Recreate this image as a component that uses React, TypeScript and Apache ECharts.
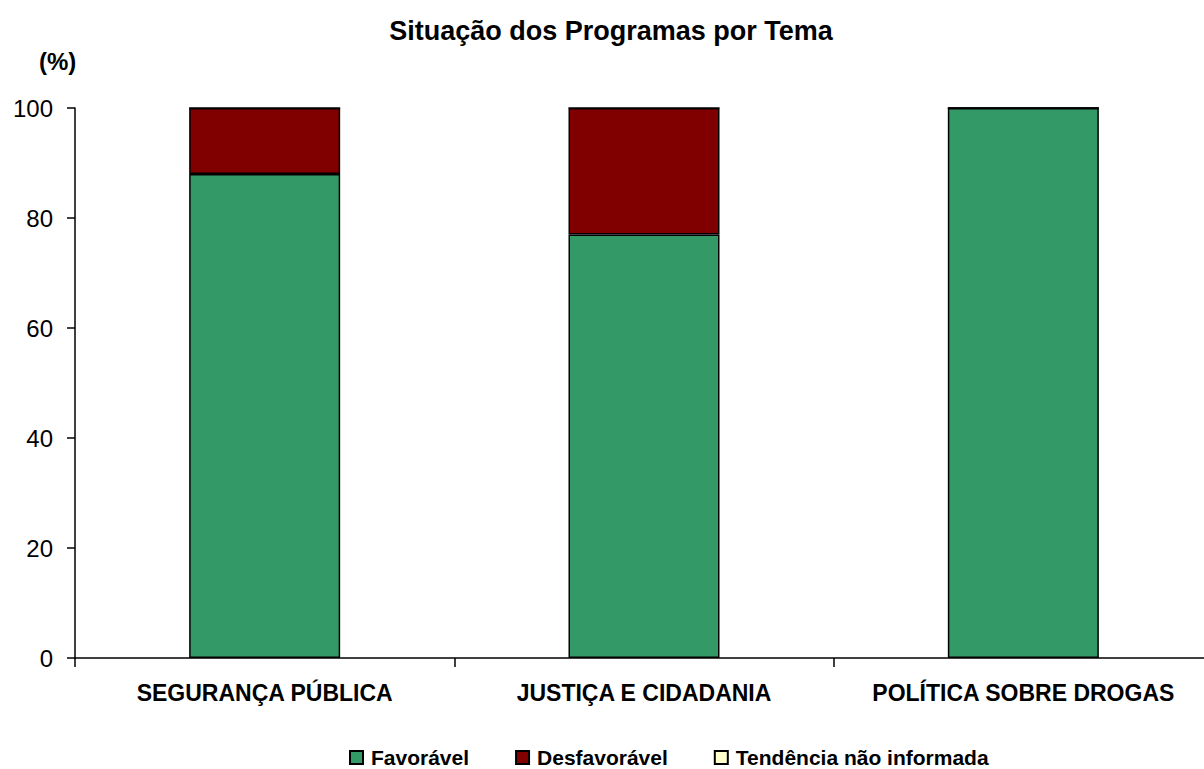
import React, { useEffect, useRef } from "react";
import * as echarts from "echarts";

const categories = ["SEGURANÇA PÚBLICA", "JUSTIÇA E CIDADANIA", "POLÍTICA SOBRE DROGAS"];
const favoravel = [88, 77, 100];
const desfavoravel = [12, 23, 0];
const naoInformada = [0, 0, 0];
const seriesNames = ["Favorável", "Desfavorável", "Tendência não informada"];
const seriesColors = ["#339966", "#800000", "#FFFFCC"];

export default function App() {
  const ref = useRef<HTMLDivElement>(null);
  useEffect(() => {
    if (!ref.current) return;
    const chart = echarts.init(ref.current, null, { renderer: "svg" });
    const font = "'Liberation Sans', Arial, sans-serif";
    const data = [favoravel, desfavoravel, naoInformada];
    chart.setOption({
      animation: false,
      textStyle: { fontFamily: font },
      title: {
        text: "Situação dos Programas por Tema",
        left: 606,
        textAlign: "center",
        top: 12,
        textStyle: { fontSize: 27, fontWeight: "bold", color: "#000", fontFamily: font },
      },
      graphic: [
        {
          type: "text",
          left: 39,
          top: 49,
          style: { text: "(%)", fontSize: 24, fontWeight: "bold", fill: "#000", fontFamily: font },
        },
      ],
      legend: {
        data: seriesNames,
        left: 344,
        top: 742,
        icon: "rect",
        itemWidth: 13,
        itemHeight: 13,
        itemGap: 46,
        textStyle: { fontSize: 21, fontWeight: "bold", color: "#000", fontFamily: font, padding: [0, 0, 0, 3] },
      },
      grid: {
        left: 75,
        top: 108,
        width: 1138,
        height: 550,
        containLabel: false,
        outerBoundsMode: "none",
      },
      xAxis: {
        type: "category",
        data: categories,
        axisLine: { lineStyle: { color: "#000", width: 1.5 } },
        axisTick: { show: true, interval: 0, length: 9, lineStyle: { color: "#000", width: 1.5 } },
        axisLabel: { interval: 0, fontSize: 23, fontWeight: "bold", color: "#000", margin: 23, fontFamily: font },
      },
      yAxis: {
        type: "value",
        min: 0,
        max: 100,
        interval: 20,
        splitLine: { show: false },
        axisLine: { show: true, lineStyle: { color: "#000", width: 1.5 } },
        axisTick: { show: true, length: 8, lineStyle: { color: "#000", width: 1.5 } },
        axisLabel: { fontSize: 24, color: "#000", margin: 22, fontFamily: font },
      },
      series: seriesNames.map((name, i) => ({
        name,
        type: "bar",
        stack: "total",
        data: data[i],
        barWidth: 151,
        itemStyle: { color: seriesColors[i], borderColor: "#000", borderWidth: 1.5 },
      })),
    });
    return () => chart.dispose();
  }, []);
  return (
    <div
      ref={ref}
      style={{ position: "fixed", left: 0, top: 0, width: 1204, height: 769, background: "#fff" }}
    />
  );
}
